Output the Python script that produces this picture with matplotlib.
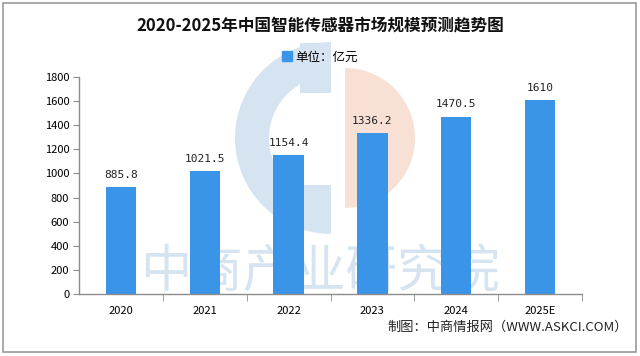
import matplotlib.pyplot as plt
import matplotlib.patches as mpatches
import numpy as np

plt.rcParams['font.family'] = ['Noto Sans CJK SC', 'DejaVu Sans']

# data
years = ['2020', '2021', '2022', '2023', '2024', '2025E']
values = [885.8, 1021.5, 1154.4, 1336.2, 1470.5, 1610]
value_labels = ['885.8', '1021.5', '1154.4', '1336.2', '1470.5', '1610']

bar_color = '#3a95e8'
axis_color = '#8c8c8c'

fig = plt.figure(figsize=(6.4, 3.56), dpi=100)

# watermark layer behind the chart, in pixel coordinates
wm = fig.add_axes([0, 0, 1, 1], zorder=0)
wm.set_xlim(0, 640)
wm.set_ylim(356, 0)
wm.axis('off')
wm.add_patch(mpatches.Wedge((331, 138), 96, 90, 270, width=34,
                            color='#d6e4f1', lw=0))
wm.add_patch(mpatches.Rectangle((300, 185), 31, 40, color='#d6e4f1', lw=0))
wm.add_patch(mpatches.Rectangle((300, 43), 31, 50, color='#d6e4f1', lw=0))
wm.add_patch(mpatches.Wedge((345, 138), 70, 270, 90,
                            color='#f8e1d4', lw=0))
wm.text(320, 273, '中商产业研究院', ha='center', va='center', fontsize=37,
        color='#d6e4f1', fontweight='medium')
# outer border
wm.add_patch(mpatches.Rectangle((3, 3), 633, 349, fill=False,
                                edgecolor='#999999', lw=1.2))

ax = fig.add_axes([79 / 640, 62 / 356, 503 / 640, 217 / 356], zorder=1)
ax.patch.set_alpha(0)
x = np.arange(len(years))
ax.bar(x, values, width=0.36, color=bar_color, zorder=2)

for xi, v, lab in zip(x, values, value_labels):
    ax.text(xi, v + 60, lab, ha='center', va='bottom', fontsize=8,
            family='DejaVu Sans Mono', color='#222222')

ax.set_xlim(-0.5, len(years) - 0.5)
ax.set_ylim(0, 1800)
ax.set_yticks(np.arange(0, 1801, 200))
ax.set_xticks(x)
ax.set_xticklabels(years)
ax.set_xticks(np.arange(0.5, len(years), 1), minor=True)
ax.tick_params(axis='x', which='major', length=0, pad=9, labelsize=8)
ax.tick_params(axis='x', which='minor', length=5, color=axis_color, direction='out')
ax.tick_params(axis='y', length=4, color=axis_color, labelsize=8, pad=3)

for side in ['top', 'right']:
    ax.spines[side].set_visible(False)
for side in ['left', 'bottom']:
    ax.spines[side].set_color(axis_color)
    ax.spines[side].set_linewidth(1)

# title, legend, source
fig.text(0.5, 1 - 25 / 356, '2020-2025年中国智能传感器市场规模预测趋势图',
         ha='center', va='center', fontsize=12, fontweight='bold', color='#111111')
handle = mpatches.Patch(color=bar_color, label='单位：亿元')
fig.legend(handles=[handle], loc='center', bbox_to_anchor=(0.5, 1 - 57 / 356),
           frameon=False, fontsize=9, handlelength=0.8, handleheight=0.8,
           handletextpad=0.3)
fig.text(628 / 640, 1 - 327 / 356, '制图：中商情报网（WWW.ASKCI.COM）',
         ha='right', va='center', fontsize=9.5, color='#222222')

fig.savefig('out.png', dpi=100)
